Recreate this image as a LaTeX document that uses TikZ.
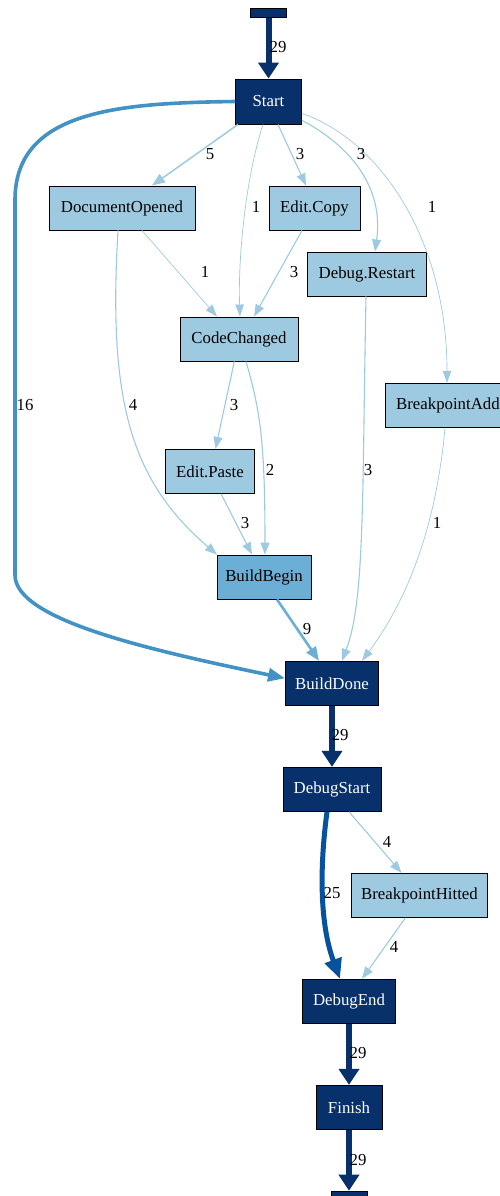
\documentclass[tikz,border=0pt]{standalone}
\usepackage{fontspec}
\setmainfont{Liberation Serif}
\usetikzlibrary{arrows.meta}
\definecolor{navy}{HTML}{08306B}
\definecolor{lb}{HTML}{9ECAE1}
\definecolor{mb}{HTML}{6BAED6}
\definecolor{bsix}{HTML}{4292C6}
\definecolor{btf}{HTML}{08519C}
\tikzset{
  nd/.style={draw=black, line width=0.9pt, minimum height=44pt, inner sep=0pt, font=\fontsize{16.8}{19}\selectfont},
  light/.style={nd, fill=lb, text=black},
  mid/.style={nd, fill=mb, text=black},
  dark/.style={nd, fill=navy, text=white},
  bar/.style={draw=black, line width=0.6pt, fill=navy, minimum width=36pt, minimum height=9pt, inner sep=0pt},
  lbl/.style={font=\fontsize{16.8}{19}\selectfont, text=black, inner sep=0pt},
  eone/.style={draw=lb, line width=0.7pt, -{Triangle[length=12pt,width=8.5pt]}},
  ethree/.style={draw=lb, line width=1.1pt, -{Triangle[length=12pt,width=9pt]}},
  efive/.style={draw=lb, line width=1.5pt, -{Triangle[length=13pt,width=10pt]}},
  enine/.style={draw=mb, line width=2.6pt, -{Triangle[length=14pt,width=11pt]}},
  esixteen/.style={draw=bsix, line width=3.6pt, -{Triangle[length=17pt,width=13pt]}},
  etf/.style={draw=btf, line width=5pt, -{Triangle[length=20pt,width=17pt]}},
  etn/.style={draw=navy, line width=6pt, -{Triangle[length=16pt,width=20pt]}},
}
\begin{document}
\begin{tikzpicture}[x=1pt,y=-1pt]
\useasboundingbox (0,0) rectangle (500,1196);
\clip (0,0) rectangle (500,1196);
% nodes
\node[bar] (top) at (268.5,13) {};
\node[dark, minimum width=66pt, minimum height=45pt] (start) at (268.5,101.5) {Start};
\node[light, minimum width=146pt] (docop) at (122,208) {DocumentOpened};
\node[light, minimum width=91pt] (copy) at (314.5,208) {Edit.Copy};
\node[light, minimum width=119pt] (restart) at (367,274) {Debug.Restart};
\node[light, minimum width=118pt] (cc) at (239,339) {CodeChanged};
\node[light, anchor=west, text width=120pt, inner xsep=10.4pt, align=left] (bpadd) at (385.3,405.3) {BreakpointAdd};
\node[light, minimum width=89pt] (paste) at (210,471.3) {Edit.Paste};
\node[mid, minimum width=94pt] (bb) at (264,577) {BuildBegin};
\node[dark, minimum width=93pt] (bd) at (332,683.3) {BuildDone};
\node[dark, minimum width=98pt] (ds) at (332,789.3) {DebugStart};
\node[light, minimum width=136pt] (bh) at (419.5,895.3) {BreakpointHitted};
\node[dark, minimum width=93pt] (de) at (349,1001.3) {DebugEnd};
\node[dark, minimum width=66pt] (fin) at (349,1107.3) {Finish};
\node[bar] (endbar) at (349,1195.5) {};
% edges
\draw[etn] (top.south) -- (start.north);
\draw[efive] ([xshift=-30.5pt]start.south) -- ([xshift=30pt]docop.north);
\draw[eone] ([xshift=-5.5pt]start.south) .. controls (245,180) and (238,260) .. ([xshift=1pt]cc.north);
\draw[ethree] ([xshift=9.5pt]start.south) -- ([xshift=-8.5pt]copy.north);
\draw[ethree] ([yshift=4pt]start.south east) .. controls (340,140) and (385,180) .. ([xshift=8pt]restart.north);
\draw[eone] ([yshift=11pt]start.south east) .. controls (380,140) and (447,240) .. ([xshift=61.7pt]bpadd.north west);
\draw[esixteen] (start.west) .. controls (120,103) and (15,110) .. (15,200) -- (15,575) .. controls (15,620) and (150,650) .. ([yshift=5pt]bd.west);
\draw[eone] ([xshift=20pt]docop.south) -- ([xshift=-22pt]cc.north);
\draw[ethree] ([xshift=-4pt]docop.south) .. controls (108,400) and (130,480) .. ([xshift=-47pt]bb.north);
\draw[ethree] ([xshift=-12.5pt]copy.south) -- ([xshift=15pt]cc.north);
\draw[ethree] ([xshift=-1pt]restart.south) .. controls (362,500) and (365,600) .. ([xshift=10pt]bd.north);
\draw[eone] ([xshift=59.7pt]bpadd.south west) .. controls (435,540) and (400,610) .. ([xshift=30pt]bd.north);
\draw[ethree] ([xshift=-4.7pt]cc.south) -- ([xshift=5.5pt]paste.north);
\draw[ethree] ([xshift=7pt]cc.south) .. controls (260,410) and (265,440) .. ([xshift=1pt]bb.north);
\draw[ethree] ([xshift=11pt]paste.south) -- ([xshift=-12pt]bb.north);
\draw[enine] ([xshift=13pt]bb.south) -- ([xshift=-13pt]bd.north);
\draw[etn] (bd.south) -- (ds.north);
\draw[etf] ([xshift=-5pt]ds.south) .. controls (318,880) and (322,930) .. ([xshift=-9pt]de.north);
\draw[ethree] ([xshift=17pt]ds.south) -- ([xshift=-18pt]bh.north);
\draw[ethree] ([xshift=-14pt]bh.south) -- ([xshift=13pt]de.north);
\draw[etn] (de.south) -- (fin.north);
\draw[etn] (fin.south) -- (endbar.north);
% labels
\node[lbl] (l1) at (278,47) {29};
\node[lbl] (l2) at (210,154) {5};
\node[lbl] (l3) at (256,207) {1};
\node[lbl] (l4) at (300,154) {3};
\node[lbl] (l5) at (361,154) {3};
\node[lbl] (l6) at (432,207) {1};
\node[lbl] (l7) at (25,405) {16};
\node[lbl] (l8) at (205,272) {1};
\node[lbl] (l9) at (294,272) {3};
\node[lbl] (l10) at (133,405) {4};
\node[lbl] (l11) at (234,405) {3};
\node[lbl] (l12) at (270,470) {2};
\node[lbl] (l13) at (368,470) {3};
\node[lbl] (l14) at (437,523) {1};
\node[lbl] (l15) at (245,523) {3};
\node[lbl] (l16) at (307,629) {9};
\node[lbl] (l17) at (340,735) {29};
\node[lbl] (l18) at (387,842) {4};
\node[lbl] (l19) at (332,893) {25};
\node[lbl] (l20) at (394,947) {4};
\node[lbl] (l21) at (358,1053) {29};
\node[lbl] (l22) at (358,1160) {29};
\end{tikzpicture}
\end{document}
